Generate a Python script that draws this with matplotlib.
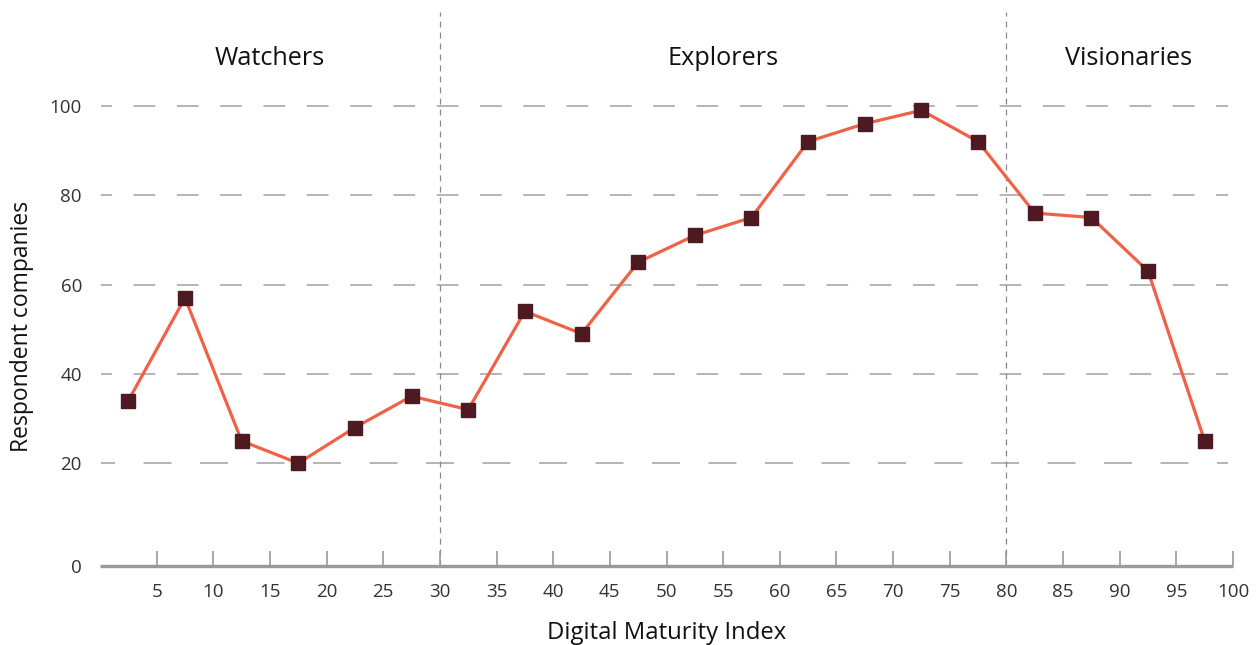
import numpy as np
import matplotlib.pyplot as plt

plt.rcParams['font.family'] = ['Open Sans', 'DejaVu Sans']
plt.rcParams['lines.scale_dashes'] = False

# data
index_mid = [2.5, 7.5, 12.5, 17.5, 22.5, 27.5, 32.5, 37.5, 42.5, 47.5,
             52.5, 57.5, 62.5, 67.5, 72.5, 77.5, 82.5, 87.5, 92.5, 97.5]
companies = [34, 57, 25, 20, 28, 35, 32, 54, 49, 65,
             71, 75, 92, 96, 99, 92, 76, 75, 63, 25]
x_ticks = [5, 10, 15, 20, 25, 30, 35, 40, 45, 50, 55, 60, 65, 70, 75, 80, 85, 90, 95, 100]
y_ticks = [20, 40, 60, 80, 100]
stage_names = ['Watchers', 'Explorers', 'Visionaries']
stage_centers = [15, 55, 90.8]
stage_bounds = [30, 80]

px = 0.72  # px -> pt at dpi 100

fig = plt.figure(figsize=(12.56, 6.45), dpi=100)
ax = fig.add_axes([100 / 1256, 79 / 645, 1133 / 1256, 554 / 645])
ax.set_xlim(0, 100)
ax.set_ylim(-3, 121)

# horizontal dashed gridlines
for v in y_ticks:
    if v == 20:
        ls = (14 * px, (28 * px, 28.5 * px))
    else:
        ls = (10.7 * px, (21.7 * px, 21.6 * px))
    ax.plot([0.1, 99.6], [v, v], color='#a0a0a0', lw=1.1, linestyle=ls, zorder=1)

# stage separators
for b in stage_bounds:
    ax.axvline(b, color='#8a8a8a', lw=0.9, linestyle=(0, (6 * px, 5 * px)), zorder=1)

ax.plot(index_mid, companies, color='#ef6247', lw=2.3, zorder=2)
ax.plot(index_mid, companies, linestyle='none', marker='s', markersize=10.5,
        color='#4c1a20', zorder=3)

for name, c in zip(stage_names, stage_centers):
    ax.text(c, 110.7, name, ha='center', va='center', fontsize=18.2, color='#111111')

for s in ['top', 'right', 'left']:
    ax.spines[s].set_visible(False)
ax.spines['bottom'].set_color('#9a9a9a')
ax.spines['bottom'].set_linewidth(2.4)
ax.spines['bottom'].set_capstyle('butt')

ax.set_xticks(x_ticks)
ax.set_xticklabels([str(t) for t in x_ticks])
ax.tick_params(axis='x', direction='in', length=11, width=1.2, color='#9a9a9a',
               labelsize=13.5, labelcolor='#333333', pad=12.5)
ax.set_yticks([-3] + y_ticks)
ax.set_yticklabels(['0'] + [str(t) for t in y_ticks])
ax.tick_params(axis='y', length=0, labelsize=13.5, labelcolor='#333333', pad=13)

ax.set_xlabel('Digital Maturity Index', fontsize=17.2, color='#111111', labelpad=14)
ax.set_ylabel('Respondent companies', fontsize=16.5, color='#111111')
ax.yaxis.set_label_coords(-66 / 1133, (566 - 326) / 554)

fig.savefig('out.png', dpi=100)
